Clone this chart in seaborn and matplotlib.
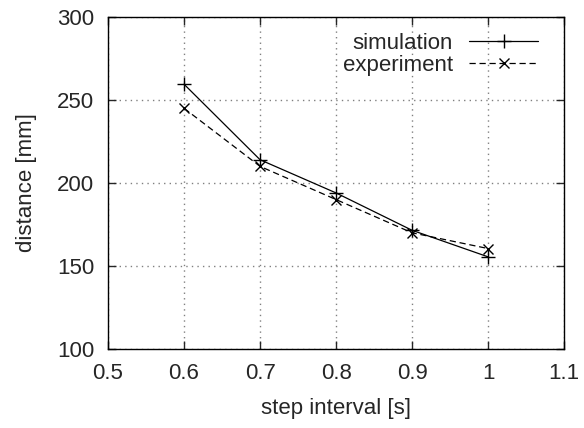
import matplotlib
matplotlib.use("Agg")
import matplotlib.pyplot as plt
import seaborn as sns
import pandas as pd

step_interval = [0.6, 0.7, 0.8, 0.9, 1.0]
simulation = [259.5, 214, 194, 171.5, 155.5]
experiment = [245, 210, 190, 170, 160.5]
x_ticks = [0.5, 0.6, 0.7, 0.8, 0.9, 1.0, 1.1]
x_tick_labels = ["0.5", "0.6", "0.7", "0.8", "0.9", "1", "1.1"]
y_ticks = [100, 150, 200, 250, 300]

sns.set_style("ticks")
plt.rcParams['font.family'] = ['Liberation Sans', 'DejaVu Sans']

df = pd.DataFrame({
    "x": step_interval * 2,
    "y": simulation + experiment,
    "series": ["simulation"] * len(step_interval) + ["experiment"] * len(step_interval),
})

fig = plt.figure(figsize=(5.84, 4.28), dpi=100)
ax = fig.add_axes([0.185, 0.1846, 0.781, 0.7757])

sns.lineplot(data=df[df.series == "simulation"], x="x", y="y", ax=ax,
             color="black", lw=0.9, marker="+", markersize=10, markeredgewidth=1.0,
             markeredgecolor="black", label="simulation")
sns.lineplot(data=df[df.series == "experiment"], x="x", y="y", ax=ax,
             color="black", lw=0.9, marker="x", markersize=7.5, markeredgewidth=1.0,
             markeredgecolor="black", linestyle=(0, (5, 3)), label="experiment")

ax.set_xlim(0.5, 1.1)
ax.set_ylim(100, 300)
ax.set_xticks(x_ticks)
ax.set_xticklabels(x_tick_labels)
ax.set_yticks(y_ticks)
ax.grid(True, color="#808080", linestyle=(0, (1, 3)), linewidth=1.0)
ax.tick_params(direction="in", length=6, top=True, right=True, labelsize=16, width=1, pad=10)
for s in ax.spines.values():
    s.set_linewidth(1.0)
    s.set_color("black")
ax.set_xlabel("step interval [s]", fontsize=16, labelpad=10)
ax.set_ylabel("distance [mm]", fontsize=16, labelpad=14)

leg = ax.legend(loc="upper right", bbox_to_anchor=(0.977, 1.0), frameon=False,
                markerfirst=False, fontsize=16,
                handlelength=3.1, borderaxespad=0.3, labelspacing=0.05, handletextpad=0.72,
                borderpad=0.4)
for t in leg.get_texts():
    t.set_ha("right")

fig.savefig("out.png", dpi=100)
